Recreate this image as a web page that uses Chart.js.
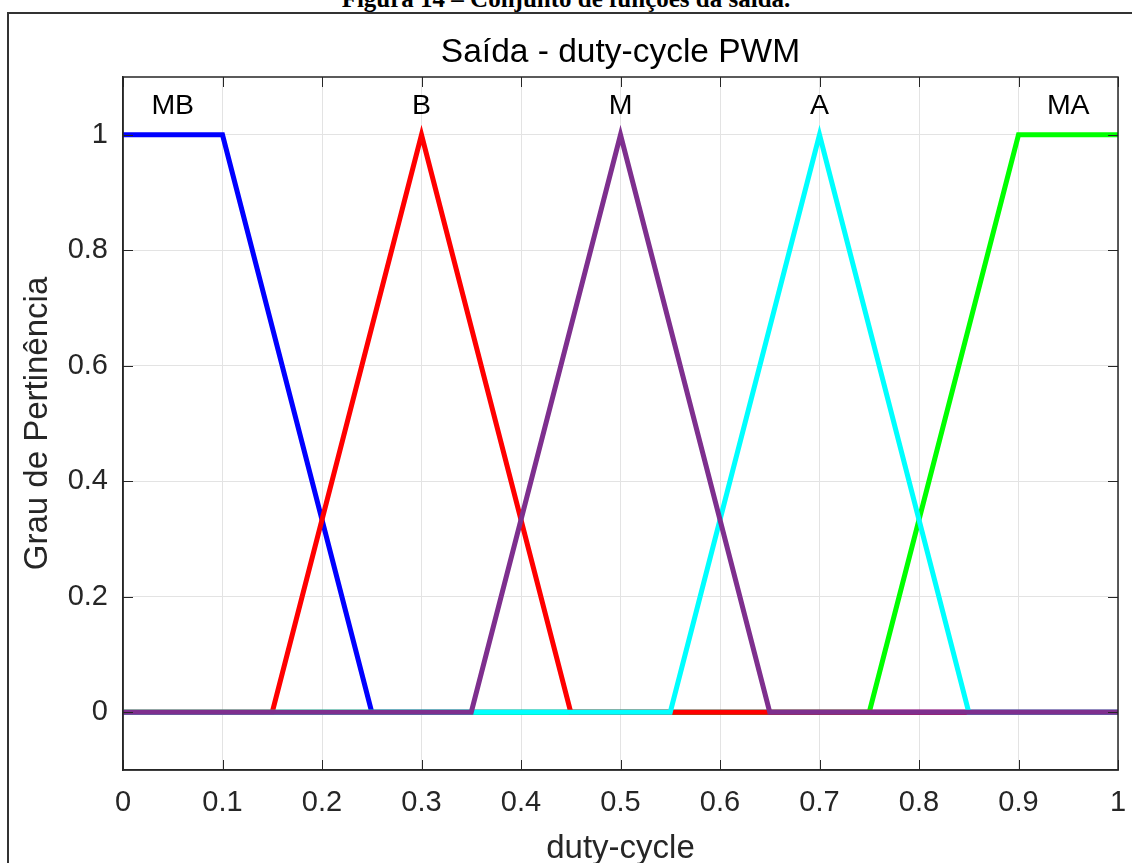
<!DOCTYPE html>
<html lang="pt">
<head>
<meta charset="utf-8">
<title>Saída - duty-cycle PWM</title>
<script src="https://cdn.jsdelivr.net/npm/chart.js@4.4.1/dist/chart.umd.min.js"></script>
<style>
  html, body { margin: 0; padding: 0; background: #fff; overflow: hidden; }
  #page { position: relative; width: 1132px; height: 863px; overflow: hidden; }
  .caption {
    position: absolute; left: 0; width: 1132px; top: -14px;
    text-align: center; font: bold 25px/25px "Liberation Serif", "Times New Roman", serif; color: #000;
  }
  .frame {
    position: absolute; left: 7px; top: 12px; width: 1140px; height: 900px;
    border-left: 2px solid #333; border-top: 2px solid #333;
  }
  #chart { position: absolute; left: 0; top: 0; }
</style>
</head>
<body>
<div id="page">
  <div class="caption">Figura 14 – Conjunto de funções da saída.</div>
  <div class="frame"></div>
  <canvas id="chart" width="1132" height="863"></canvas>
</div>
<script>
  // membership functions of the output (duty-cycle)
  const mbX = [0, 0.1, 0.25, 1];
  const mbY = [1, 1, 0, 0];
  const bX = [0, 0.15, 0.3, 0.45, 1];
  const bY = [0, 0, 1, 0, 0];
  const mX = [0, 0.35, 0.5, 0.65, 1];
  const mY = [0, 0, 1, 0, 0];
  const aX = [0, 0.55, 0.7, 0.85, 1];
  const aY = [0, 0, 1, 0, 0];
  const maX = [0, 0.75, 0.9, 1];
  const maY = [0, 0, 1, 1];

  // names written above each function
  const mfNames = ['MB', 'B', 'M', 'A', 'MA'];
  const mfLabelX = [0.05, 0.3, 0.5, 0.7, 0.95];
  const mfLabelY = [1.05, 1.05, 1.05, 1.05, 1.05];

  const xTicks = [0, 0.1, 0.2, 0.3, 0.4, 0.5, 0.6, 0.7, 0.8, 0.9, 1];
  const yTicks = [0, 0.2, 0.4, 0.6, 0.8, 1];

  const TITLE = 'Saída - duty-cycle PWM';
  const FONT = '"Liberation Sans", Arial, Helvetica, sans-serif';
  const AXIS_COLOR = '#262626';

  const pts = (xs, ys) => xs.map((x, i) => ({ x: x, y: ys[i] }));

  function series(label, xs, ys, color, order) {
    return {
      label: label,
      data: pts(xs, ys),
      borderColor: color,
      backgroundColor: color,
      borderWidth: 5,
      pointRadius: 0,
      tension: 0,
      clip: 0,
      order: order,
    };
  }

  // inner ticks + closed box, like a matlab axes; title centred on the axes
  const boxPlugin = {
    id: 'box',
    afterDraw(chart) {
      const { ctx, chartArea: a, scales } = chart;
      ctx.save();
      ctx.strokeStyle = AXIS_COLOR;
      ctx.lineWidth = 1;
      ctx.beginPath();
      scales.x.ticks.forEach((t) => {
        const px = Math.round(scales.x.getPixelForValue(t.value)) + 0.5;
        ctx.moveTo(px, a.bottom); ctx.lineTo(px, a.bottom - 10);
        ctx.moveTo(px, a.top); ctx.lineTo(px, a.top + 10);
      });
      scales.y.ticks.forEach((t) => {
        const py = Math.round(scales.y.getPixelForValue(t.value)) + 0.5;
        ctx.moveTo(a.left, py); ctx.lineTo(a.left + 10, py);
        ctx.moveTo(a.right, py); ctx.lineTo(a.right - 10, py);
      });
      ctx.stroke();
      ctx.lineWidth = 1.5;
      ctx.strokeRect(a.left, a.top, a.right - a.left, a.bottom - a.top);

      ctx.fillStyle = '#000';
      ctx.font = '33.5px ' + FONT;
      ctx.textAlign = 'center';
      ctx.textBaseline = 'middle';
      ctx.fillText(TITLE, (a.left + a.right) / 2, 52.5);
      ctx.restore();
    },
    afterDatasetsDraw(chart) {
      const { ctx, scales } = chart;
      ctx.save();
      ctx.fillStyle = '#000';
      ctx.font = '28.5px ' + FONT;
      ctx.textAlign = 'center';
      ctx.textBaseline = 'middle';
      mfNames.forEach((name, i) => {
        ctx.fillText(name, scales.x.getPixelForValue(mfLabelX[i]), scales.y.getPixelForValue(mfLabelY[i]));
      });
      ctx.restore();
    },
  };

  const canvas = document.getElementById('chart');

  new Chart(canvas, {
    type: 'line',
    data: {
      datasets: [
        series('MB', mbX, mbY, '#0000ff', 5),
        series('B', bX, bY, '#ff0000', 3),
        series('M', mX, mY, '#7e2f8e', 1),
        series('A', aX, aY, '#00ffff', 2),
        series('MA', maX, maY, '#00ff00', 4),
      ],
    },
    options: {
      responsive: false,
      animation: false,
      devicePixelRatio: 1,
      layout: { padding: { left: 0, right: 14, top: 77, bottom: 0 } },
      plugins: {
        legend: { display: false },
        tooltip: { enabled: false },
        title: { display: false },
      },
      scales: {
        x: {
          type: 'linear',
          min: 0,
          max: 1,
          afterBuildTicks: (s) => { s.ticks = xTicks.map((v) => ({ value: v })); },
          afterFit: (s) => { s.height = 93; s.paddingLeft = 0; s.paddingRight = 0; },
          grid: { color: '#e3e3e3', lineWidth: 1, drawTicks: false },
          border: { display: true, color: AXIS_COLOR, width: 1.5 },
          ticks: {
            padding: 16,
            color: AXIS_COLOR,
            font: { family: FONT, size: 29 },
            maxRotation: 0,
            callback: (v) => String(v),
          },
          title: {
            display: true,
            text: 'duty-cycle',
            color: AXIS_COLOR,
            font: { family: FONT, size: 33 },
            padding: { top: 0, bottom: -6 },
          },
        },
        y: {
          type: 'linear',
          min: -0.1,
          max: 1.1,
          afterBuildTicks: (s) => { s.ticks = yTicks.map((v) => ({ value: v })); },
          afterFit: (s) => { s.width = 123; s.paddingTop = 0; s.paddingBottom = 0; },
          grid: { color: '#e3e3e3', lineWidth: 1, drawTicks: false },
          border: { display: true, color: AXIS_COLOR, width: 1.5 },
          ticks: {
            padding: 15,
            color: AXIS_COLOR,
            font: { family: FONT, size: 29 },
            callback: (v) => String(v),
          },
          title: {
            display: true,
            text: 'Grau de Pertinência',
            color: AXIS_COLOR,
            font: { family: FONT, size: 33 },
            padding: { top: 18, bottom: 0 },
          },
        },
      },
    },
    plugins: [boxPlugin],
  });
</script>
</body>
</html>
